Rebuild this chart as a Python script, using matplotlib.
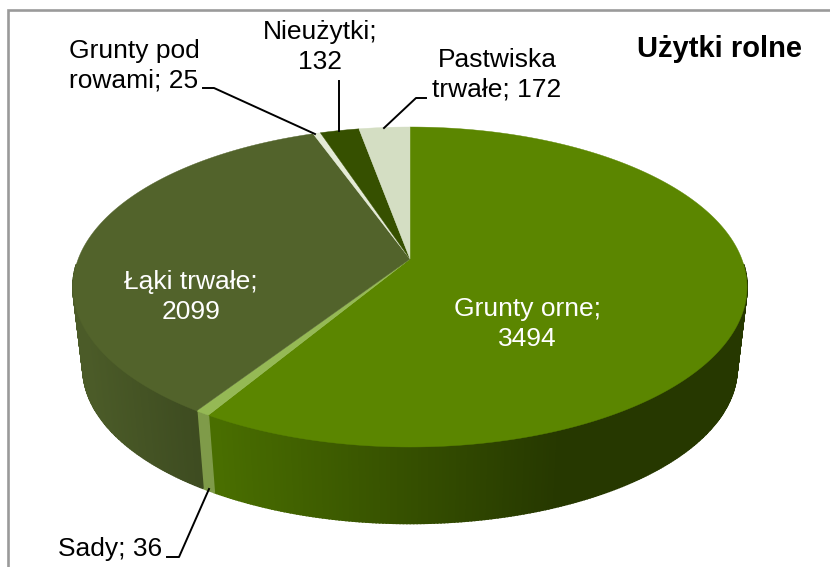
import numpy as np
import matplotlib
matplotlib.use("Agg")
import matplotlib.pyplot as plt
from matplotlib.colors import to_rgb

plt.rcParams['font.family'] = ['Liberation Sans', 'DejaVu Sans']

categories = ['Grunty orne', 'Sady', 'Łąki trwałe', 'Grunty pod rowami', 'Nieużytki', 'Pastwiska trwałe']
values = [3494, 36, 2099, 25, 132, 172]
top_colors = ['#5b8600', '#95b955', '#52632b', '#e4ead6', '#365000', '#d4dec3']
wall_left = ['#496e00', '#7f9b49', '#4b5b28', '#e4ead6', '#365000', '#d4dec3']
wall_right = ['#263800', '#7f9b49', '#3d4b20', '#e4ead6', '#365000', '#d4dec3']
wall_span = [(215, 560), (195, 215), (85, 200), (300, 320), (330, 360), (360, 410)]


def project(angle, apex_y, k, m, p=0.175):
    # tilted circle, angle clockwise from 12 o'clock, with some perspective
    a = np.radians(angle)
    d = 1 + p * np.cos(a)
    return 410 + k * np.sin(a) / d, apex_y - m * np.cos(a) / d


def top_edge(angle):
    return project(angle, 259, 331.8, 155.1)


def bottom_edge(angle):
    return project(angle, 341, 322, 150.5)


fig = plt.figure(figsize=(8.3, 5.67), dpi=100)
ax = fig.add_axes([0, 0, 1, 1])
ax.set_xlim(0, 830)
ax.set_ylim(567, 0)
ax.axis('off')

edges = np.concatenate([[0], np.cumsum(values)]) / sum(values) * 360

# side wall first, the top covers the back part of it
for i in range(len(values)):
    start, end = max(edges[i], 92), min(edges[i + 1], 268)
    if end <= start:
        continue
    steps = np.linspace(start, end, max(2, int((end - start) * 2)))
    c0, c1 = np.array(to_rgb(wall_left[i])), np.array(to_rgb(wall_right[i]))
    for a0, a1 in zip(steps[:-1], steps[1:]):
        x0, y0 = top_edge(a0)
        x1, y1 = top_edge(a1)
        x2, y2 = bottom_edge(a1)
        x3, y3 = bottom_edge(a0)
        f = np.interp((x0 + x1) / 2, wall_span[i], [0, 1])
        col = c0 + (c1 - c0) * f
        ax.fill([x0, x1, x2, x3], [y0, y1, y2, y3], facecolor=col, edgecolor=col, lw=1.2, zorder=2)

for i in range(len(values)):
    steps = np.linspace(edges[i], edges[i + 1], max(3, int(edges[i + 1] - edges[i]) * 2))
    xs, ys = top_edge(steps)
    ax.fill(np.r_[410, xs], np.r_[259, ys], color=top_colors[i], lw=0.3, zorder=3)

# chart area frame, right and bottom sides are cut off in the picture
ax.plot([7.5, 7.5, 830], [567, 9.8, 9.8], color='#9a9a9a', lw=1.9, zorder=1, solid_joinstyle='miter')

# leader lines
leaders = [
    ([203, 214, 315], [88, 88, 134]),
    ([339, 339], [81, 131]),
    ([426, 416, 384], [98, 98, 128]),
    ([167, 179, 209], [557, 557, 489]),
]
for lx, ly in leaders:
    ax.plot(lx, ly, color='black', lw=1.4, zorder=5)

fs = 19
kw = dict(ha='center', va='center', fontsize=fs, linespacing=1.3, zorder=6)
ax.text(527, 324, 'Grunty orne;\n3494', color='white', **kw)
ax.text(191, 297, 'Łąki trwałe;\n2099', color='white', **kw)
ax.text(134, 66, 'Grunty pod\nrowami; 25', color='black', **kw)
ax.text(320, 47, 'Nieużytki;\n132', color='black', **kw)
ax.text(497, 75, 'Pastwiska\ntrwałe; 172', color='black', **kw)
ax.text(110, 549, 'Sady; 36', color='black', **kw)
ax.text(719, 49, 'Użytki rolne', color='black', ha='center', va='center',
        fontsize=21, fontweight='bold', zorder=6)

fig.savefig('out.png', dpi=100)
